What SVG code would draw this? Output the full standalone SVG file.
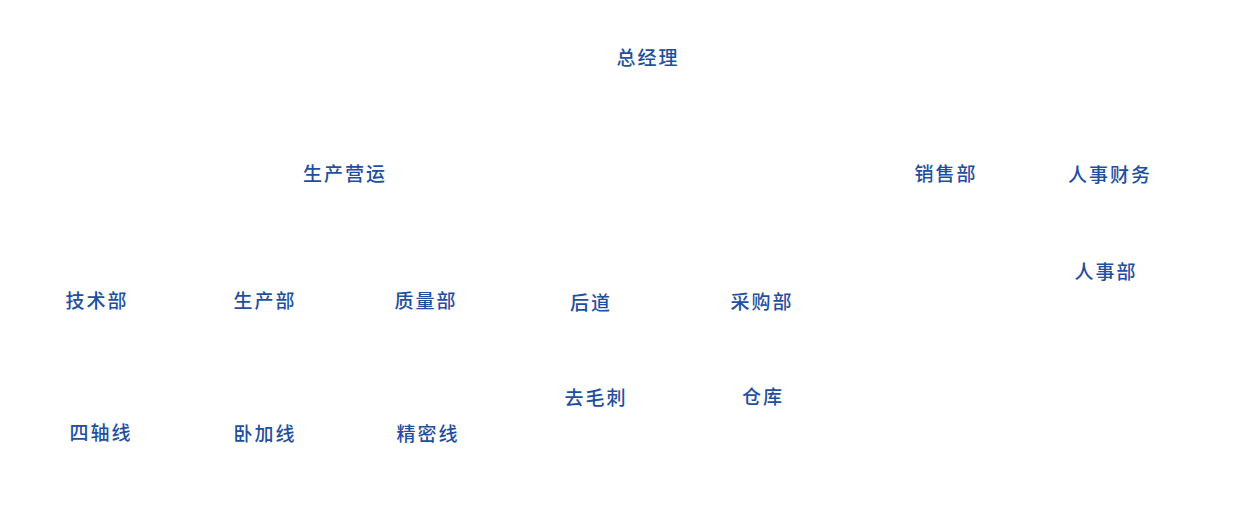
<svg xmlns="http://www.w3.org/2000/svg" width="1239" height="508" viewBox="0 0 1239 508">
<style>
.t{font-family:"Noto Sans CJK SC","Noto Sans",sans-serif;font-size:19px;fill:#1f4f9e;text-anchor:middle;letter-spacing:2px;font-weight:500}
</style>
<rect width="1239" height="508" fill="#ffffff"/>
<g id="connectors"></g>
<g id="n-zjl"><text class="t" x="648" y="65">总经理</text></g>
<g id="n-scyy"><text class="t" x="345" y="181">生产营运</text></g>
<g id="n-xsb"><text class="t" x="946" y="181">销售部</text></g>
<g id="n-rscw"><text class="t" x="1110" y="182">人事财务</text></g>
<g id="n-rsb"><text class="t" x="1106" y="279">人事部</text></g>
<g id="n-jsb"><text class="t" x="97" y="308">技术部</text></g>
<g id="n-scb"><text class="t" x="265" y="308">生产部</text></g>
<g id="n-zlb"><text class="t" x="426" y="308">质量部</text></g>
<g id="n-hd"><text class="t" x="591" y="310">后道</text></g>
<g id="n-cgb"><text class="t" x="762" y="309">采购部</text></g>
<g id="n-qmc"><text class="t" x="596" y="405">去毛刺</text></g>
<g id="n-ck"><text class="t" x="763" y="404">仓库</text></g>
<g id="n-szx"><text class="t" x="101" y="440">四轴线</text></g>
<g id="n-wjx"><text class="t" x="265" y="441">卧加线</text></g>
<g id="n-jmx"><text class="t" x="428" y="441">精密线</text></g>
</svg>
